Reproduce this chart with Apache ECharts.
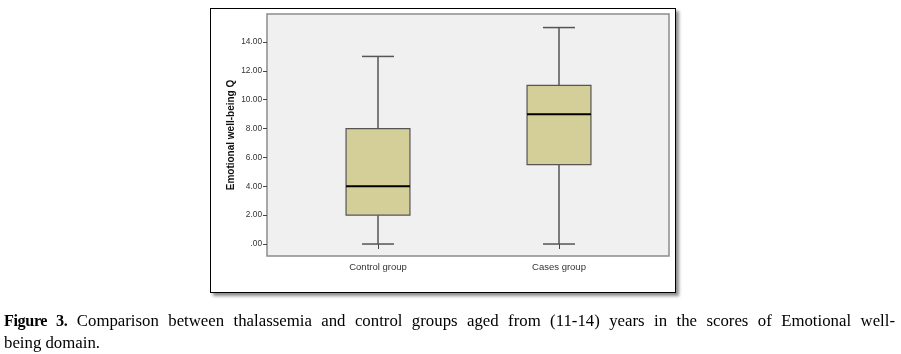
<!DOCTYPE html>
<html>
<head>
<meta charset="utf-8">
<script src="https://cdn.jsdelivr.net/npm/echarts@6/dist/echarts.min.js"></script>
<style>
  html, body { margin:0; padding:0; background:#fff; width:901px; height:354px; overflow:hidden; }
  #frame { position:absolute; left:210px; top:8px; width:464px; height:283px; border:1.5px solid #000; background:#fff; box-shadow:3px 3px 3px rgba(0,0,0,0.45); }
  #chart { position:absolute; left:0; top:0; width:901px; height:354px; }
  #caption { position:absolute; left:4px; top:310px; width:891px; font-family:"Liberation Serif","Times New Roman",serif; font-size:16.8px; line-height:21px; color:#000; }
  #caption b { font-size:16.2px; letter-spacing:-0.4px; }
  #caption .l1 { text-align:justify; text-align-last:justify; white-space:nowrap; }
</style>
</head>
<body>
<div id="frame"></div>
<div id="chart"></div>
<div id="caption">
  <div class="l1"><b>Figure 3.</b> Comparison between thalassemia and control groups aged from (11-14) years in the scores of Emotional well-</div>
  <div>being domain.</div>
</div>
<script>
const categories = ['Control group', 'Cases group'];
const mins    = [0, 0];
const q1s     = [2, 5.5];
const medians = [4, 9];
const q3s     = [8, 11];
const maxs    = [13, 15];
const yTicks  = [0, 2, 4, 6, 8, 10, 12, 14];
const yMin = -0.83, yMax = 15.94;

const data = categories.map((c, i) => [i, mins[i], q1s[i], medians[i], q3s[i], maxs[i]]);

const chart = echarts.init(document.getElementById('chart'), null, { renderer: 'canvas' });
const labelFont = '"Liberation Sans", Arial, sans-serif';

chart.setOption({
  backgroundColor: 'transparent',
  animation: false,
  grid: [
    { left: 267, top: 14, width: 402, height: 242, show: true, backgroundColor: '#f0f0f0', borderColor: '#8c8c8c', borderWidth: 1.5 },
    { left: 287.5, top: 14, width: 362, height: 242, show: false }
  ],
  xAxis: [
    { gridIndex: 0, type: 'value', show: false, min: 0, max: 1 },
    { gridIndex: 1, type: 'category', data: categories,
      axisLine: { show: false },
      axisTick: { show: true, alignWithLabel: true, length: 5, lineStyle: { color: '#444', width: 1 } },
      axisLabel: { fontSize: 9.5, color: '#333', fontFamily: labelFont, margin: 6 } }
  ],
  yAxis: [
    { gridIndex: 0, type: 'value', min: yMin, max: yMax,
      name: 'Emotional well-being Q', nameLocation: 'middle', nameGap: 31,
      nameTextStyle: { fontFamily: '"Liberation Sans Narrow", "Arial Narrow", "Liberation Sans", sans-serif', fontWeight: 'bold', fontSize: 10, color: '#111' },
      axisLine: { show: false },
      splitLine: { show: false },
      axisTick: { show: true, length: 4, customValues: yTicks, lineStyle: { color: '#444', width: 1 } },
      axisLabel: { customValues: yTicks, fontSize: 8.3, color: '#333', fontFamily: labelFont, margin: 5,
        formatter: v => v === 0 ? '.00' : v.toFixed(2) } },
    { gridIndex: 1, type: 'value', min: yMin, max: yMax, show: false }
  ],
  series: [{
    type: 'custom',
    xAxisIndex: 1, yAxisIndex: 1,
    data: data,
    renderItem: function (params, api) {
      const xi = api.value(0);
      const band = api.size([1, 0])[0];
      const bw = band * 0.353;
      const cw = bw / 2;
      const pMin = api.coord([xi, api.value(1)]);
      const pQ1 = api.coord([xi, api.value(2)]);
      const pMed = api.coord([xi, api.value(3)]);
      const pQ3 = api.coord([xi, api.value(4)]);
      const pMax = api.coord([xi, api.value(5)]);
      const cx = pMin[0];
      const wStyle = { stroke: '#555', lineWidth: 1.5 };
      return {
        type: 'group',
        children: [
          { type: 'line', shape: { x1: cx, y1: pQ1[1], x2: cx, y2: pMin[1] }, style: wStyle },
          { type: 'line', shape: { x1: cx, y1: pQ3[1], x2: cx, y2: pMax[1] }, style: wStyle },
          { type: 'line', shape: { x1: cx - cw / 2, y1: pMin[1], x2: cx + cw / 2, y2: pMin[1] }, style: wStyle },
          { type: 'line', shape: { x1: cx - cw / 2, y1: pMax[1], x2: cx + cw / 2, y2: pMax[1] }, style: wStyle },
          { type: 'rect', shape: { x: cx - bw / 2, y: pQ3[1], width: bw, height: pQ1[1] - pQ3[1] },
            style: { fill: '#d4cf98', stroke: '#555', lineWidth: 1.2 } },
          { type: 'line', shape: { x1: cx - bw / 2, y1: pMed[1], x2: cx + bw / 2, y2: pMed[1] },
            style: { stroke: '#000', lineWidth: 2 } }
        ]
      };
    }
  }]
});
</script>
</body>
</html>
